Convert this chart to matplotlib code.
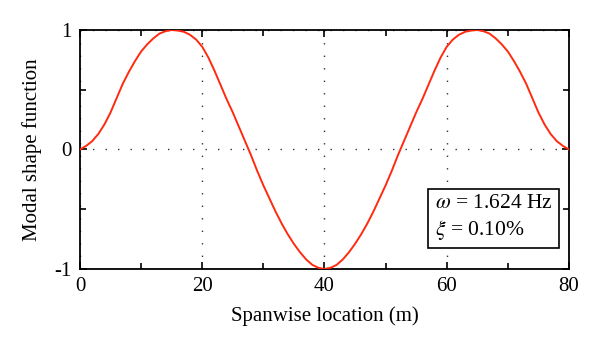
import numpy as np
import matplotlib
matplotlib.use("Agg")
import matplotlib.pyplot as plt
from matplotlib.ticker import MultipleLocator

# Datos: ubicación (m) y forma modal
ubicacion = np.arange(0, 81, 1)
forma = [
    0.00, 0.03, 0.07, 0.13, 0.21, 0.31, 0.43, 0.55, 0.65, 0.74,
    0.82, 0.88, 0.93, 0.97, 0.99, 1.00, 0.995, 0.985, 0.96, 0.92,
    0.86, 0.77, 0.66, 0.54, 0.42, 0.31, 0.19, 0.07, -0.05, -0.18,
    -0.30, -0.41, -0.52, -0.62, -0.71, -0.79, -0.86, -0.92, -0.965, -0.99,
    -1.00, -0.99, -0.965, -0.92, -0.86, -0.79, -0.71, -0.62, -0.52, -0.41,
    -0.30, -0.18, -0.05, 0.07, 0.19, 0.31, 0.42, 0.54, 0.66, 0.77,
    0.86, 0.92, 0.96, 0.985, 0.995, 1.00, 0.99, 0.97, 0.93, 0.88,
    0.82, 0.74, 0.65, 0.55, 0.43, 0.31, 0.21, 0.13, 0.07, 0.03,
    0.00,
]
x_ticks = [0, 20, 40, 60, 80]
y_ticks = [-1, 0, 1]
texto = "$\\omega$ = 1.624 Hz\n$\\xi$ = 0.10%"

plt.rcParams['font.family'] = ['Liberation Serif', 'DejaVu Serif']
plt.rcParams['mathtext.fontset'] = 'stix'
plt.rcParams['axes.unicode_minus'] = False

fig = plt.figure(figsize=(6, 3.53), dpi=100)
ax = fig.add_axes([0.1333, 0.238, 0.815, 0.677])

ax.plot(ubicacion, forma, color='#ff2a10', lw=1.4, zorder=3)

ax.set_xlim(0, 80)
ax.set_ylim(-1, 1)
ax.set_xticks(x_ticks)
ax.set_yticks(y_ticks)
ax.set_yticklabels([str(v) for v in y_ticks])
ax.xaxis.set_minor_locator(MultipleLocator(10))
ax.yaxis.set_minor_locator(MultipleLocator(0.5))
ax.tick_params(which='both', direction='in', top=True, right=True,
               labelsize=15, width=1.2)
ax.tick_params(which='major', length=5, pad=6)
ax.tick_params(which='minor', length=4)
for s in ax.spines.values():
    s.set_linewidth(1.3)

ax.grid(True, which='major', color='#333333', lw=1.0, linestyle=(0, (1, 8)))

ax.set_xlabel('Spanwise location (m)', fontsize=15, labelpad=7)
ax.set_ylabel('Modal shape function', fontsize=15, labelpad=9)

ax.text(58.0, -0.57, texto, fontsize=15.5, va='center', ha='left',
        linespacing=1.3, zorder=4,
        bbox=dict(boxstyle='square,pad=0.3', fc='white', ec='black', lw=1.2))

plt.savefig('out.png', dpi=100)
